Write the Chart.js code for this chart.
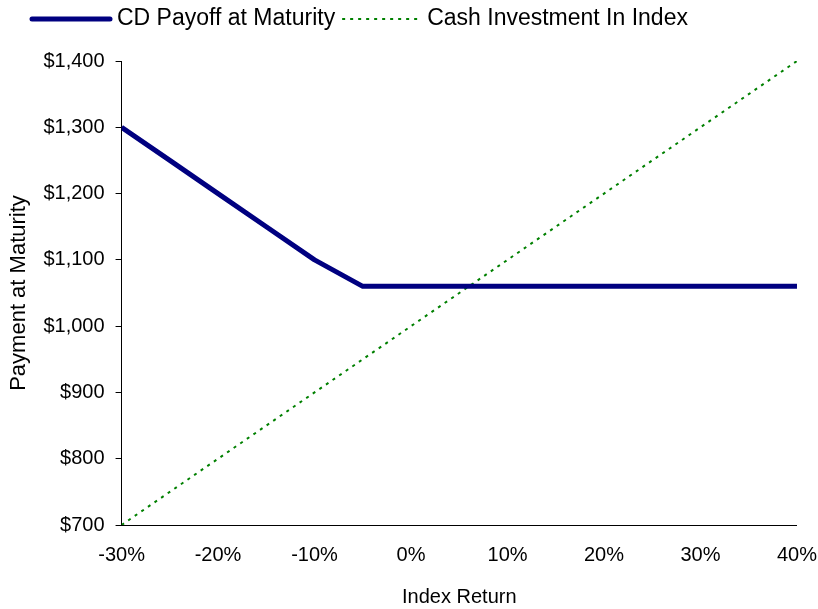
<!DOCTYPE html>
<html>
<head>
<meta charset="utf-8">
<script src="https://cdn.jsdelivr.net/npm/chart.js@4.4.1/dist/chart.umd.min.js"></script>
<style>
  html, body { margin: 0; padding: 0; background: #fff; }
  #wrap { width: 818px; height: 609px; }
</style>
</head>
<body>
<div id="wrap"><canvas id="chart" width="818" height="609"></canvas></div>
<script>
// ===== Datos =====
const indexReturns = [-30, -25, -20, -15, -10, -5, 0, 5, 10, 15, 20, 25, 30, 35, 40];
const cdPayoff     = [1300, 1250, 1200, 1150, 1100, 1060, 1060, 1060, 1060, 1060, 1060, 1060, 1060, 1060, 1060];
const cashInIndex  = [700, 750, 800, 850, 900, 950, 1000, 1050, 1100, 1150, 1200, 1250, 1300, 1350, 1400];
const xTicks = [-30, -20, -10, 0, 10, 20, 30, 40];
const yTicks = [700, 800, 900, 1000, 1100, 1200, 1300, 1400];

const FONT = '"Liberation Sans", Arial, sans-serif';

// Leyenda propia: línea de muestra + texto, alineada a la izquierda
const legendPlugin = {
    id: 'simpleLegend',
    afterDraw(chart) {
        const ctx = chart.ctx;
        let x = 32;
        const y = 19;
        ctx.save();
        ctx.font = '23px ' + FONT;
        ctx.textBaseline = 'middle';
        chart.data.datasets.forEach(ds => {
            ctx.beginPath();
            ctx.strokeStyle = ds.borderColor;
            ctx.lineWidth = ds.borderWidth;
            ctx.lineCap = ds.borderDash ? 'butt' : 'round';
            ctx.setLineDash(ds.borderDash || []);
            ctx.moveTo(x, y);
            ctx.lineTo(x + 78, y);
            ctx.stroke();
            ctx.setLineDash([]);
            x += 78 + 7;
            ctx.fillStyle = '#000';
            ctx.fillText(ds.label, x, y);
            x += ctx.measureText(ds.label).width + 7;
        });
        ctx.restore();
    }
};

const toPts = arr => indexReturns.map((r, i) => ({ x: r, y: arr[i] }));

new Chart(document.getElementById('chart'), {
    type: 'line',
    data: {
        datasets: [
            {
                label: 'CD Payoff at Maturity',
                data: toPts(cdPayoff),
                borderColor: '#000080',
                borderWidth: 5,
                pointRadius: 0,
                tension: 0,
                borderJoinStyle: 'round'
            },
            {
                label: 'Cash Investment In Index',
                data: toPts(cashInIndex),
                borderColor: '#008000',
                borderWidth: 2,
                borderDash: [3, 5],
                pointRadius: 0,
                tension: 0
            }
        ]
    },
    options: {
        responsive: false,
        animation: false,
        layout: { padding: { top: 61, left: 6, right: 1, bottom: 0 } },
        plugins: {
            legend: { display: false },
            tooltip: { enabled: false }
        },
        scales: {
            x: {
                type: 'linear',
                min: -30,
                max: 40,
                afterBuildTicks: ax => { ax.ticks = xTicks.map(v => ({ value: v })); },
                ticks: {
                    color: '#000',
                    font: { family: FONT, size: 20 },
                    padding: 1,
                    maxRotation: 0,
                    callback: v => v + '%'
                },
                // sin marcas visibles: el largo solo separa las etiquetas del eje
                grid: { drawOnChartArea: false, drawTicks: true, tickLength: 17, color: 'rgba(0,0,0,0)' },
                border: { display: true, color: '#000', width: 1 },
                title: {
                    display: true,
                    text: 'Index Return',
                    color: '#000',
                    font: { family: FONT, size: 20 },
                    padding: { top: 17, bottom: 0 }
                }
            },
            y: {
                min: 700,
                max: 1400,
                afterBuildTicks: ax => { ax.ticks = yTicks.map(v => ({ value: v })); },
                ticks: {
                    color: '#000',
                    font: { family: FONT, size: 20 },
                    padding: 11,
                    callback: v => '$' + v.toLocaleString('en-US')
                },
                grid: {
                    drawOnChartArea: false,
                    drawTicks: true,
                    tickLength: 6,
                    color: '#000'
                },
                border: { display: true, color: '#000', width: 1 },
                title: {
                    display: true,
                    text: 'Payment at Maturity',
                    color: '#000',
                    font: { family: FONT, size: 22 },
                    padding: { top: 0, bottom: 0 }
                }
            }
        }
    },
    plugins: [legendPlugin]
});
</script>
</body>
</html>
